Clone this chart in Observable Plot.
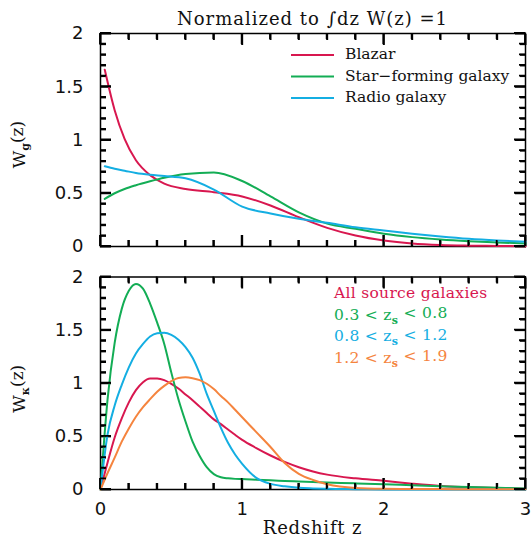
<!DOCTYPE html>
<html><head><meta charset="utf-8">
<script src="https://cdn.jsdelivr.net/npm/d3@7"></script>
<script src="https://cdn.jsdelivr.net/npm/@observablehq/plot@0.6"></script>
<style>
body{margin:0;background:#fff}
#chart svg{display:block;overflow:visible}
</style>
</head><body><div id="chart"></div>
<script>
// ---------- data ----------
const zTop = [0.03, 0.1, 0.17, 0.25, 0.35, 0.45, 0.6, 0.8, 1.0, 1.2, 1.4, 1.6, 1.8, 2.0, 2.2, 2.4, 2.6, 2.8, 3.0];
const blazar      = [1.66, 1.28, 1.01, 0.81, 0.67, 0.59, 0.54, 0.51, 0.47, 0.385, 0.275, 0.175, 0.103, 0.056, 0.028, 0.014, 0.008, 0.005, 0.003];
const starForming = [0.447, 0.50, 0.54, 0.575, 0.612, 0.645, 0.68, 0.695, 0.615, 0.47, 0.32, 0.215, 0.166, 0.12, 0.088, 0.066, 0.05, 0.038, 0.028];
const radioGalaxy = [0.754, 0.73, 0.712, 0.69, 0.673, 0.662, 0.64, 0.535, 0.375, 0.31, 0.26, 0.222, 0.18, 0.15, 0.12, 0.094, 0.072, 0.056, 0.044];

const zBottom = [0, 0.05, 0.1, 0.15, 0.2, 0.25, 0.3, 0.35, 0.4, 0.45, 0.5, 0.55, 0.6, 0.65, 0.7, 0.75, 0.8, 0.85, 0.9, 0.95, 1.0, 1.1, 1.2, 1.3, 1.4, 1.5, 1.6, 1.8, 2.0, 2.2, 2.4, 2.6, 2.8, 3.0];
const allSources = [0, 0.255, 0.49, 0.67, 0.82, 0.935, 1.01, 1.045, 1.045, 1.03, 0.995, 0.95, 0.895, 0.84, 0.78, 0.72, 0.66, 0.615, 0.565, 0.515, 0.467, 0.39, 0.32, 0.26, 0.21, 0.17, 0.14, 0.105, 0.082, 0.055, 0.033, 0.022, 0.013, 0.008];
const bin03_08   = [0, 0.85, 1.38, 1.70, 1.87, 1.935, 1.89, 1.75, 1.57, 1.37, 1.10, 0.85, 0.64, 0.45, 0.315, 0.21, 0.145, 0.115, 0.105, 0.10, 0.098, 0.092, 0.086, 0.08, 0.075, 0.07, 0.066, 0.058, 0.05, 0.04, 0.031, 0.023, 0.016, 0.01];
const bin08_12   = [0, 0.52, 0.79, 0.985, 1.15, 1.28, 1.37, 1.44, 1.47, 1.475, 1.455, 1.41, 1.34, 1.24, 1.09, 0.90, 0.74, 0.58, 0.44, 0.33, 0.242, 0.11, 0.053, 0.03, 0.016, 0.01, 0.006, 0.003, 0.001, 0, 0, 0, 0, 0];
const bin12_19   = [0, 0.155, 0.30, 0.45, 0.575, 0.685, 0.775, 0.85, 0.92, 0.975, 1.02, 1.05, 1.056, 1.048, 1.03, 0.995, 0.945, 0.88, 0.82, 0.75, 0.68, 0.54, 0.40, 0.25, 0.148, 0.09, 0.05, 0.015, 0.007, 0.005, 0.004, 0.003, 0.003, 0.002];

const topNames = ["Blazar", "Star\u2212forming galaxy", "Radio galaxy"];
const topColors = ["#d8174f", "#13ad55", "#14aee2"];
const bottomNames = ["All source galaxies", "0.3 < z_s < 0.8", "0.8 < z_s < 1.2", "1.2 < z_s < 1.9"];
const bottomColors = ["#d8174f", "#13ad55", "#14aee2", "#f5843e"];

const xMajor = [0, 1, 2, 3];
const xMajorLabels = ["0", "1", "2", "3"];
const xMinor = [0.2, 0.4, 0.6, 0.8, 1.2, 1.4, 1.6, 1.8, 2.2, 2.4, 2.6, 2.8];
const yMajor = [0, 0.5, 1, 1.5, 2];
const yMajorLabels = ["0", "0.5", "1", "1.5", "2"];
const yMinor = [0.1, 0.2, 0.3, 0.4, 0.6, 0.7, 0.8, 0.9, 1.1, 1.2, 1.3, 1.4, 1.6, 1.7, 1.8, 1.9];

const titleText = "Normalized to \u222Bdz W(z) =1";
const xLabelText = "Redshift z";
const yLabelTop = "W_g(z)";
const yLabelBottom = "W_\u03BA(z)";

// ---------- helpers ----------
const SERIF = "'DejaVu Serif', serif";
const SANS = "'DejaVu Sans', sans-serif";
const W = 532, ML = 100, MR = 7;

function rich(textSel, str, subSize) {
  const m = str.match(/^(.*?)_(.)(.*)$/);
  if (!m) { textSel.text(str); return; }
  textSel.append("tspan").text(m[1]);
  textSel.append("tspan").attr("dy", "0.35em").attr("font-size", subSize).attr("font-weight", "bold").text(m[2]);
  textSel.append("tspan").attr("dy", "-0.35em").text(m[3]);
}

function customMark(draw) {
  return function(...args) {
    const dims = args.find(a => a && typeof a === "object" && "marginLeft" in a && "width" in a);
    const g = d3.create("svg:g").attr("text-anchor", "start");
    draw(g, dims);
    return g.node();
  };
}

function frameBox(d) {
  return {left: d.marginLeft, right: d.width - d.marginRight, top: d.marginTop, bottom: d.height - d.marginBottom};
}

// inward ticks on all four sides, drawn as axis ticks pointing into the frame
function inwardTicks() {
  const s = {stroke: "black", strokeWidth: 2, fill: "none", label: null};
  return [
    Plot.axisX(xMinor, {anchor: "bottom", tickSize: -6, ...s}),
    Plot.axisX(xMinor, {anchor: "top", tickSize: -6, ...s}),
    Plot.axisX(xMajor, {anchor: "bottom", tickSize: -11, ...s}),
    Plot.axisX(xMajor, {anchor: "top", tickSize: -11, ...s}),
    Plot.axisY(yMinor, {anchor: "left", tickSize: -6, ...s}),
    Plot.axisY(yMinor, {anchor: "right", tickSize: -6, ...s}),
    Plot.axisY(yMajor, {anchor: "left", tickSize: -11, ...s}),
    Plot.axisY(yMajor, {anchor: "right", tickSize: -11, ...s})
  ];
}

// the same ticks again, added to the finished SVG from the plot's own x / y scales
function addFrameTicks(svg) {
  const sx = svg.scale("x"), sy = svg.scale("y");
  const [left, right] = sx.range;
  const [bottom, top] = sy.range;
  const p = [];
  for (const v of [...xMinor, ...xMajor]) {
    const len = xMajor.includes(v) ? 11 : 6, x = sx.apply(v);
    p.push(`M${x},${bottom}v${-len}`, `M${x},${top}v${len}`);
  }
  for (const v of [...yMinor, ...yMajor]) {
    const len = yMajor.includes(v) ? 11 : 6, y = sy.apply(v);
    p.push(`M${left},${y}h${len}`, `M${right},${y}h${-len}`);
  }
  d3.select(svg).append("path").attr("d", p.join("")).attr("fill", "none")
    .attr("stroke", "black").attr("stroke-width", 1.8);
}

function yTickLabels() {
  return Plot.axisY(yMajor, {anchor: "left", tickSize: 0, tickPadding: 17, label: null,
    tickFormat: d => yMajorLabels[yMajor.indexOf(d)], fontSize: 18, fontFamily: SANS, fill: "#111"});
}

function series(zs, ys, name) { return zs.map((z, i) => ({z, w: ys[i], name})); }

// ---------- top panel ----------
const topData = [
  ...series(zTop, blazar, topNames[0]),
  ...series(zTop, starForming, topNames[1]),
  ...series(zTop, radioGalaxy, topNames[2])
];

const topPlot = Plot.plot({
  width: W, height: 258,
  marginLeft: ML, marginRight: MR, marginTop: 33, marginBottom: 12,
  x: {domain: [0, 3], axis: null},
  y: {domain: [0, 2], axis: null},
  color: {domain: topNames, range: topColors},
  marks: [
    Plot.frame({stroke: "black", strokeWidth: 1.5}),
    ...inwardTicks(),
    Plot.line(topData, {x: "z", y: "w", stroke: "name", z: "name", strokeWidth: 2, curve: "monotone-x"}),
    yTickLabels(),
    customMark((g, d) => {
      const f = frameBox(d);
      g.append("text").attr("x", (f.left + f.right) / 2).attr("y", f.top - 8)
        .attr("text-anchor", "middle").attr("font-family", SERIF).attr("font-size", 18)
        .attr("letter-spacing", 1).attr("fill", "#111")
        .text(titleText);
      const t = g.append("text").attr("transform", `translate(25,${(f.top + f.bottom) / 2 + 5}) rotate(-90)`)
        .attr("text-anchor", "middle").attr("font-family", SERIF).attr("font-size", 17).attr("fill", "#111");
      rich(t, yLabelTop, 11);
      topNames.forEach((name, i) => {
        const ly = f.top + 22 + 21.5 * i;
        g.append("line").attr("x1", f.right - 234).attr("x2", f.right - 191).attr("y1", ly).attr("y2", ly)
          .attr("stroke", topColors[i]).attr("stroke-width", 2);
        g.append("text").attr("x", f.right - 180).attr("y", ly + 4).attr("font-family", SERIF)
          .attr("font-size", 15.5).attr("fill", "#111").text(name);
      });
    })
  ]
});

// ---------- bottom panel ----------
const bottomData = [
  ...series(zBottom, allSources, bottomNames[0]),
  ...series(zBottom, bin03_08, bottomNames[1]),
  ...series(zBottom, bin08_12, bottomNames[2]),
  ...series(zBottom, bin12_19, bottomNames[3])
];

const bottomPlot = Plot.plot({
  width: W, height: 279,
  marginLeft: ML, marginRight: MR, marginTop: 18.5, marginBottom: 48,
  x: {domain: [0, 3], axis: null},
  y: {domain: [0, 2], axis: null},
  color: {domain: bottomNames, range: bottomColors},
  marks: [
    Plot.frame({stroke: "black", strokeWidth: 1.5}),
    ...inwardTicks(),
    Plot.line(bottomData, {x: "z", y: "w", stroke: "name", z: "name", strokeWidth: 2, curve: "monotone-x"}),
    yTickLabels(),
    Plot.axisX(xMajor, {anchor: "bottom", tickSize: 0, tickPadding: 13, label: null,
      tickFormat: d => xMajorLabels[xMajor.indexOf(d)], fontSize: 18, fontFamily: SANS, fill: "#111"}),
    customMark((g, d) => {
      const f = frameBox(d);
      g.append("text").attr("x", (f.left + f.right) / 2).attr("y", d.height - 3)
        .attr("text-anchor", "middle").attr("font-family", SERIF).attr("font-size", 18)
        .attr("letter-spacing", 0.8).attr("fill", "#111")
        .text(xLabelText);
      const t = g.append("text").attr("transform", `translate(25,${(f.top + f.bottom) / 2 + 6}) rotate(-90)`)
        .attr("text-anchor", "middle").attr("font-family", SERIF).attr("font-size", 17).attr("fill", "#111");
      rich(t, yLabelBottom, 11);
      bottomNames.forEach((name, i) => {
        const tx = g.append("text").attr("x", f.right - 191).attr("y", f.top + 21.8 + 21.5 * i)
          .attr("font-family", SERIF).attr("font-size", 15.5).attr("letter-spacing", 0.3)
          .attr("fill", bottomColors[i]);
        rich(tx, name, 11);
      });
    })
  ]
});

try { addFrameTicks(topPlot); addFrameTicks(bottomPlot); } catch (e) { /* axis ticks remain */ }

document.getElementById("chart").append(topPlot, bottomPlot);
</script>
</body></html>
